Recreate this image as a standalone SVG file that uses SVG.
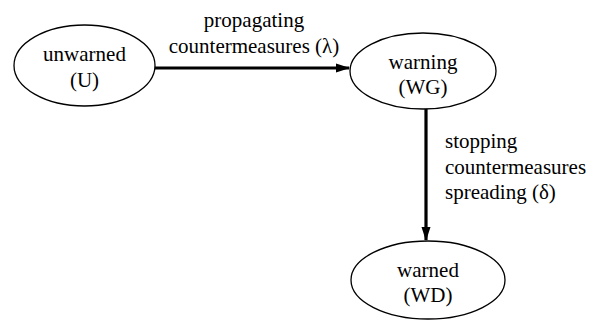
<svg xmlns="http://www.w3.org/2000/svg" width="598" height="322" viewBox="0 0 598 322" xml:lang="en">
  <defs>
    <marker id="arrow" markerWidth="14" markerHeight="10" refX="13" refY="5" orient="auto" markerUnits="userSpaceOnUse">
      <path d="M0,0.5 L14,5 L0,9.5 Z" fill="#000000"/>
    </marker>
  </defs>
  <rect x="0" y="0" width="598" height="322" fill="#ffffff"/>

  <g id="connectors" stroke="#000000" stroke-width="3.2" fill="none">
    <line x1="155" y1="68" x2="349" y2="68" marker-end="url(#arrow)"/>
    <line x1="426" y1="109" x2="426" y2="240" marker-end="url(#arrow)"/>
  </g>

  <g id="edge-labels" style="font-family: 'Liberation Serif', serif; font-size: 21px" fill="#000000">
    <text x="254" y="27" text-anchor="middle">propagating</text>
    <text x="254" y="53" text-anchor="middle">countermeasures (&#955;)</text>
    <text x="445" y="148">stopping</text>
    <text x="445" y="174">countermeasures</text>
    <text x="445" y="199">spreading (&#948;)</text>
  </g>

  <g id="unwarned" style="font-family: 'Liberation Serif', serif; font-size: 21px">
    <ellipse cx="84.5" cy="65.5" rx="70.5" ry="40.5" fill="#ffffff" stroke="#000000" stroke-width="1.3"/>
    <text x="84.5" y="61" text-anchor="middle">unwarned</text>
    <text x="84.5" y="87" text-anchor="middle">(U)</text>
  </g>

  <g id="warning" style="font-family: 'Liberation Serif', serif; font-size: 21px">
    <ellipse cx="423" cy="71" rx="73" ry="38" fill="#ffffff" stroke="#000000" stroke-width="1.3"/>
    <text x="423" y="69" text-anchor="middle">warning</text>
    <text x="423" y="94" text-anchor="middle">(WG)</text>
  </g>

  <g id="warned" style="font-family: 'Liberation Serif', serif; font-size: 21px">
    <ellipse cx="428" cy="280" rx="77" ry="39" fill="#ffffff" stroke="#000000" stroke-width="1.3"/>
    <text x="428" y="277" text-anchor="middle">warned</text>
    <text x="428" y="302" text-anchor="middle">(WD)</text>
  </g>
</svg>
